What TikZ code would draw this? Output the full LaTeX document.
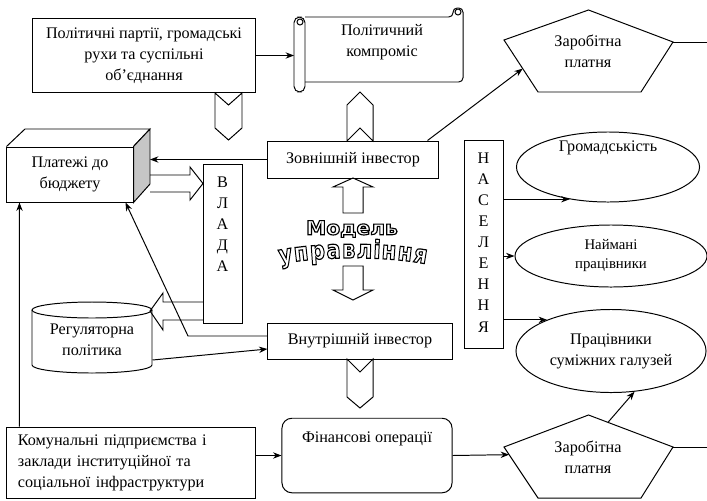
\documentclass[tikz,border=0pt]{standalone}
\usepackage{fontspec}
\setmainfont{Liberation Serif}
\newfontfamily\wafont{DejaVu Sans}
\usetikzlibrary{shapes.geometric,calc,arrows.meta,decorations.text}
\newcommand\outl[1]{\special{pdf:literal direct 1 Tr 0.7 w}#1\special{pdf:literal direct 0 Tr}}

\begin{document}
\begin{tikzpicture}[x=0.025cm, y=-0.025cm, line width=0.7pt,
    >={Stealth[length=6pt,width=4.5pt]},
    font=\fontsize{11.5}{15}\selectfont,
    box/.style={draw=black, align=center, inner sep=2pt},
    oval/.style={ellipse, draw=black, align=center, inner sep=0pt},
    letters/.style={anchor=north, align=center, yshift=-5pt},
    wordart/.style={font=\wafont\bfseries\fontsize{12}{12}\selectfont}]

    \useasboundingbox (0,0) rectangle (707,500);

    \node[box, minimum width=5.55cm, minimum height=1.825cm] (A) at (144,55.5) {Політичні партії, громадські\\рухи та суспільні\\об’єднання};
    \node[align=center] (B) at (382,42.5) {Політичний\\компроміс};
    \node[box, minimum width=4.25cm, minimum height=0.925cm] (C) at (353,159.5) {Зовнішній інвестор};
    \node[box, minimum width=4.6cm, minimum height=0.9cm] (D) at (360,341) {Внутрішній інвестор};
    \node[box, minimum width=3.15cm, minimum height=1.375cm] (E) at (70,174.5) {Платежі до\\бюджету};
    \node[box, minimum width=0.975cm, minimum height=3.95cm, label={[letters]north:В\\Л\\А\\Д\\А}] (F) at (222.5,244) {};
    \node[box, minimum width=0.975cm, minimum height=5.175cm, label={[letters]north:Н\\А\\С\\Е\\Л\\Е\\Н\\Н\\Я}] (G) at (483.5,244.5) {};
    \node[align=center, minimum width=3cm, minimum height=1.65cm] (H) at (92,340) {Регуляторна\\політика};
    \node[box, minimum width=6.2cm, minimum height=1.775cm, text width=5.65cm, align=left] (I) at (131,462.5) {Комунальні підприємства і\\заклади інституційної та\\соціальної інфраструктури};
    \node[box, rounded corners=7pt, minimum width=4.25cm, text height=15pt, text depth=34pt] (J) at (367,455.5) {Фінансові операції};
    \node[oval, minimum width=4.575cm, minimum height=1.75cm, label={[anchor=north, yshift=-3pt]north:Громадськість}] (K) at (608,167) {};
    \node[oval, minimum width=4.8cm, minimum height=1.55cm, font=\fontsize{10.5}{13.5}\selectfont] (N) at (611,256) {Наймані\\працівники};
    \node[oval, minimum width=4.75cm, minimum height=2.075cm] (O) at (611,351) {Працівники\\суміжних галузей};
    \node[align=center] (L) at (588,51) {Заробітна\\платня};
    \node[align=center] (M) at (588,457.5) {Заробітна\\платня};
    \node[wordart, xscale=1.2, yscale=1.15] (P) at (352,229) {\outl{Модель}};

    % arched word
    \path[decorate, decoration={text effects along path, text={управління},
        text effects/.cd, text along path, fit text to path, character command=\outl,
        every character/.style={font=\wafont\bfseries\fontsize{15}{15}\selectfont, yscale=1.2, inner sep=0pt}}]
        (280,264) .. controls (320,256) and (386,256) .. (426,264);

    % scroll
    \draw[rounded corners=3] (305,17) -- (453,17) -- (453,8) -- (463,8) -- (463,82) -- (305,82);
    \draw (458,12) circle[radius=3];
    \draw[rounded corners=4] (294,17) rectangle (305,92);
    \draw (300,22) circle[radius=3];

    % cuboid faces
    \draw (E.north west) -- (25,129) -- (150,129) -- (E.north east);
    \draw[fill=gray!45] (E.north east) -- (150,129) -- (150,184) -- (E.south east) -- cycle;

    % cylinder
    \draw (32,310) -- (32,365) arc[start angle=180, end angle=0, x radius=60, y radius=8] -- (152,310);
    \draw (92,310) ellipse[x radius=60, y radius=8];

    % pentagons
    \coordinate (p1) at (588.5,10);
    \coordinate (p2) at (673,42);
    \coordinate (p3) at (641,92);
    \coordinate (p4) at (538,92);
    \coordinate (p5) at (504,40);
    \draw (p1) -- (p2) -- (p3) -- (p4) -- (p5) -- cycle;
    \coordinate (q1) at (588.5,415);
    \coordinate (q2) at (673,447);
    \coordinate (q3) at (641,498);
    \coordinate (q4) at (538,498);
    \coordinate (q5) at (504,447);
    \draw (q1) -- (q2) -- (q3) -- (q4) -- (q5) -- cycle;

    % chevrons
    \draw (215,93) -- (228.5,105) -- (242,93) -- (242,128) -- (228.5,140) -- (215,128) -- cycle;
    \draw (360,92) -- (373,105) -- (373,141) -- (360,128) -- (347,141) -- (347,105) -- cycle;
    \draw (347,359) -- (360,372) -- (373,359) -- (373,397) -- (360,408) -- (347,397) -- cycle;

    % block arrows
    \draw (150,175) -- (190,175) -- (190,167) -- (203,183.5) -- (190,200) -- (190,192) -- (150,192);
    \draw (203,302) -- (163,302) -- (163,293) -- (150,311) -- (163,330) -- (163,320) -- (203,320);
    \draw (343,213) -- (343,187) -- (333,187) -- (353,178) -- (373,187) -- (363,187) -- (363,213) -- cycle;
    \draw (343,266) -- (343,290) -- (333,290) -- (353,300) -- (373,290) -- (363,290) -- (363,266) -- cycle;

    \coordinate (b) at (294,60);
    \coordinate (es) at (150,150);
    \coordinate (d) at (188,336);
    \coordinate (r1) at (707,42);
    \coordinate (r2) at (707,447);

    \draw [->](A.east) -- (A.east -| b);
    \draw [->]([shift={(-11,0)}]C.north east) -- ($(p5)!0.55!(p4)$);
    \draw [->](C.west) -- (C.west -| es);
    \draw [->]([shift={(0,-5)}]D.west) -- (d) -- ([shift={(-8,0)}]E.south east);
    \draw [->]([shift={(0,20)}]H.east) -- ([shift={(0,8)}]D.west);
    \draw [->]([shift={(13,0)}]I.north west) -- ([shift={(13,0)}]E.south west);
    \draw [->](I.east |- J.west) -- (J.west);
    \draw [->](J.east) -- ($(q5)!0.15!(q4)$);
    \draw [->]($(q1)!0.23!(q2)$) -- (O.300);
    \draw (p2) -- (r1);
    \draw (q2) -- (r2);
    \draw [->](G.east |- K.220) -- (K.220);
    \draw [->](G.east |- N.west) -- (N.west);
    \draw [->](G.east |- O.154) -- (O.154);

\end{tikzpicture}
\end{document}
